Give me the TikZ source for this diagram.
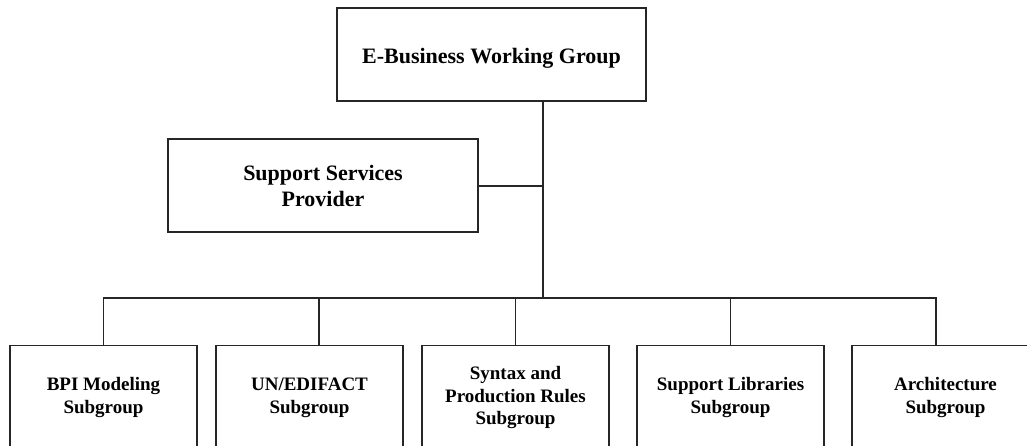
\documentclass[tikz,border=0pt]{standalone}
\usepackage{fontspec}
\setmainfont{Liberation Serif}
\begin{document}
\begin{tikzpicture}[x=1pt,y=-1pt,
  box/.style={draw=black!85,line width=1.3pt,inner sep=0pt,align=center,font=\bfseries},
  topbox/.style={box,minimum width=309pt,minimum height=93pt,text height=17pt,text depth=0pt,font=\bfseries\fontsize{22}{26}\selectfont},
  midbox/.style={box,minimum width=310pt,minimum height=93pt,font=\bfseries\fontsize{22}{26}\selectfont},
  subbox/.style={box,minimum width=187pt,minimum height=104pt,anchor=north,font=\bfseries\fontsize{19}{22.5}\selectfont},
  conn/.style={draw=black!85,line width=1.3pt}]
\useasboundingbox (0,0) rectangle (1027,445);
\clip (0,0) rectangle (1027,445);
\node[topbox] (top) at (491.5,54.5) {E-Business Working Group};
\node[midbox] (sup) at (323,185.5) {Support Services\\Provider};
\node[subbox] (b1) at (103.5,345) {BPI Modeling\\Subgroup};
\node[subbox] (b2) at (309.5,345) {UN/EDIFACT\\Subgroup};
\node[subbox] (b3) at (515.5,345) {Syntax and\\Production Rules\\Subgroup};
\node[subbox] (b4) at (730.5,345) {Support Libraries\\Subgroup};
\node[subbox] (b5) at (945.5,345) {Architecture\\Subgroup};
\coordinate (j) at (543,298);
\coordinate (sj) at (543,186);
\coordinate (d2) at ([xshift=9.5pt]b2.north);
\coordinate (d5) at ([xshift=-9.5pt]b5.north);
\draw[conn] (top.south -| j) -- (j);
\draw[conn] (sup.east |- sj) -- (sj);
\draw[conn] (b1.north) -- (b1.north |- j) -- (d5 |- j) -- (d5);
\draw[conn] (d2) -- (d2 |- j);
\draw[conn] (b3.north) -- (b3.north |- j);
\draw[conn] (b4.north) -- (b4.north |- j);
\end{tikzpicture}
\end{document}
